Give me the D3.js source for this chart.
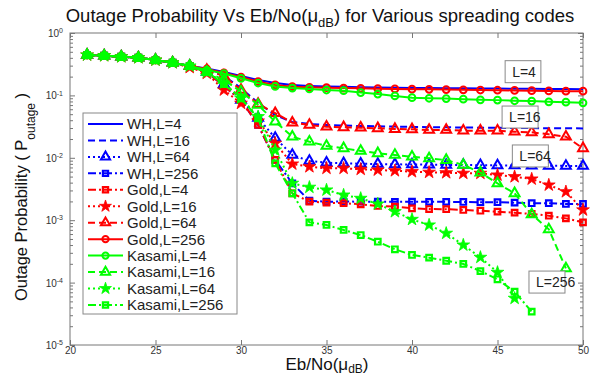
<!DOCTYPE html>
<html>
<head>
<meta charset="utf-8">
<script src="https://cdn.jsdelivr.net/npm/d3@7"></script>
<style>
  body { margin: 0; background: #fff; }
  svg { font-family: "Liberation Sans", Arial, sans-serif; }
</style>
</head>
<body>
<svg id="chart" width="598" height="375"></svg>
<script>
// Eb/No in dB (x values)
const ebno = [21,22,23,24,25,26,27,28,29,30,31,32,33,34,35,36,37,38,39,40,41,42,43,44,45,46,47,48,49,50];

// outage probability per code family / length
const wh4   = [0.444,0.433,0.417,0.402,0.369,0.334,0.296,0.270,0.237,0.205,0.177,0.158,0.147,0.142,0.139,0.137,0.135,0.134,0.133,0.132,0.131,0.130,0.130,0.129,0.129,0.128,0.128,0.127,0.127,0.126];
const wh16  = [0.444,0.433,0.417,0.402,0.369,0.334,0.296,0.255,0.205,0.131,0.0755,0.0485,0.0375,0.0348,0.0336,0.0329,0.0323,0.0320,0.0316,0.0313,0.0310,0.0308,0.0306,0.0304,0.0303,0.0300,0.0299,0.0298,0.0297,0.0296];
const wh64  = [0.444,0.433,0.417,0.402,0.369,0.334,0.296,0.237,0.152,0.0844,0.0434,0.0208,0.0111,0.00889,0.00835,0.00816,0.00804,0.00795,0.00787,0.00781,0.00775,0.00770,0.00767,0.00761,0.00756,0.00753,0.00750,0.00745,0.00742,0.00739];
const wh256 = [0.444,0.433,0.417,0.402,0.369,0.334,0.296,0.237,0.141,0.0844,0.0336,0.00923,0.0039,0.00205,0.00198,0.00199,0.00198,0.00198,0.00197,0.00198,0.00197,0.00197,0.00196,0.00194,0.00194,0.00191,0.00187,0.00187,0.00182,0.00182];
const gold4   = [0.444,0.433,0.417,0.402,0.369,0.334,0.296,0.237,0.141,0.0844,0.0336,0.00923,0.0027,0.00198,0.00191,0.00187,0.0018,0.00169,0.00165,0.00155,0.00151,0.0015,0.00146,0.00142,0.00137,0.00132,0.00126,0.00118,0.00107,0.000925];
const gold16  = [0.444,0.433,0.417,0.402,0.369,0.334,0.28,0.226,0.122,0.0747,0.0389,0.0171,0.00795,0.0072,0.00679,0.00679,0.00654,0.00637,0.00621,0.00599,0.00586,0.00577,0.00564,0.00564,0.0053,0.00498,0.00457,0.00366,0.00286,0.00146];
const gold64  = [0.444,0.433,0.417,0.402,0.369,0.334,0.296,0.255,0.205,0.122,0.073,0.052,0.0365,0.0336,0.0315,0.0308,0.0304,0.0297,0.0289,0.0286,0.0279,0.0279,0.0272,0.0272,0.0272,0.0262,0.0256,0.0238,0.0218,0.0142];
const gold256 = [0.444,0.433,0.417,0.402,0.369,0.334,0.296,0.265,0.229,0.197,0.166,0.147,0.138,0.135,0.133,0.131,0.130,0.128,0.127,0.126,0.125,0.124,0.123,0.122,0.121,0.120,0.119,0.118,0.117,0.117];
const kas4   = [0.444,0.433,0.417,0.402,0.369,0.334,0.296,0.255,0.224,0.188,0.158,0.139,0.131,0.127,0.122,0.119,0.111,0.105,0.098,0.092,0.090,0.089,0.087,0.085,0.084,0.082,0.081,0.079,0.078,0.076];
const kas16  = [0.444,0.433,0.417,0.402,0.369,0.334,0.296,0.237,0.177,0.115,0.0702,0.0379,0.0218,0.0181,0.0155,0.0142,0.0129,0.0118,0.0111,0.0104,0.0098,0.0092,0.0077,0.0058,0.0039,0.0027,0.00124,0.000714,0.000169];
const kas64  = [0.444,0.433,0.417,0.402,0.369,0.334,0.296,0.237,0.158,0.0899,0.0456,0.0133,0.0039,0.00337,0.00305,0.00253,0.00224,0.00182,0.00137,0.00103,0.000838,0.000617,0.0004,0.000254,0.000146,0.000056];
const kas256 = [0.444,0.433,0.417,0.402,0.369,0.334,0.296,0.237,0.152,0.0899,0.043,0.00816,0.0027,0.000925,0.000838,0.000697,0.000579,0.000452,0.000342,0.000277,0.000251,0.000224,0.000199,0.000153,0.000113,0.0000715,0.0000342];

const xTicks = [20,25,30,35,40,45,50];
const yExps = [0,-1,-2,-3,-4,-5];

// annotation labels (text, Eb/No at text centre, probability at text centre)
const boxText = ["L=4", "L=16", "L=64", "L=256"];
const boxX = [46.55, 46.6, 47.2, 48.4];
const boxP = [0.24, 0.045, 0.0107, 0.000102];

const series = [
  { name: "WH,L=4",       v: wh4,    color: "#0000ff", dash: null,       marker: null },
  { name: "WH,L=16",      v: wh16,   color: "#0000ff", dash: "7,4",      marker: null },
  { name: "WH,L=64",      v: wh64,   color: "#0000ff", dash: "2,3",      marker: "tri" },
  { name: "WH,L=256",     v: wh256,  color: "#0000ff", dash: "8,3,2,3",  marker: "sq" },
  { name: "Gold,L=4",     v: gold4,  color: "#ff0000", dash: "8,3,2,3",  marker: "sq" },
  { name: "Gold,L=16",    v: gold16, color: "#ff0000", dash: "2,3",      marker: "star" },
  { name: "Gold,L=64",    v: gold64, color: "#ff0000", dash: "7,4",      marker: "tri" },
  { name: "Gold,L=256",   v: gold256,color: "#ff0000", dash: null,       marker: "circ" },
  { name: "Kasami,L=4",   v: kas4,   color: "#00ff00", dash: null,       marker: "circ" },
  { name: "Kasami,L=16",  v: kas16,  color: "#00ff00", dash: "7,4",      marker: "tri" },
  { name: "Kasami,L=64",  v: kas64,  color: "#00ff00", dash: "2,3",      marker: "star" },
  { name: "Kasami,L=256", v: kas256, color: "#00ff00", dash: "8,3,2,3",  marker: "sq" }
];

const svg = d3.select("#chart");
const m = { left: 70, right: 583, top: 33, bottom: 345 };

const x = d3.scaleLinear().domain([20, 50]).range([m.left, m.right]);
const y = d3.scaleLog().domain([1e-5, 1]).range([m.bottom, m.top]);

const frame = "#777";
const tickCol = "#333";

// minor ticks for log axis
const minorVals = [];
yExps.slice(0, -1).forEach(e => {
  for (let k = 2; k <= 9; k++) minorVals.push(k * Math.pow(10, e - 1));
});

// axes
const gx = svg.append("g").attr("transform", `translate(0,${m.bottom})`)
  .call(d3.axisBottom(x).tickValues(xTicks).tickSize(-5).tickPadding(2).tickFormat(d3.format("d")));
const gxTop = svg.append("g").attr("transform", `translate(0,${m.top})`)
  .call(d3.axisTop(x).tickValues(xTicks).tickSize(-5).tickFormat(""));
const gy = svg.append("g").attr("transform", `translate(${m.left},0)`)
  .call(d3.axisLeft(y).tickValues(yExps.map(e => Math.pow(10, e))).tickSize(-5).tickPadding(8).tickFormat(""));
const gyMinor = svg.append("g").attr("transform", `translate(${m.left},0)`)
  .call(d3.axisLeft(y).tickValues(minorVals).tickSize(-3).tickFormat(""));
const gyR = svg.append("g").attr("transform", `translate(${m.right},0)`)
  .call(d3.axisRight(y).tickValues(yExps.map(e => Math.pow(10, e))).tickSize(-5).tickFormat(""));
const gyRMinor = svg.append("g").attr("transform", `translate(${m.right},0)`)
  .call(d3.axisRight(y).tickValues(minorVals).tickSize(-3).tickFormat(""));

[gx, gxTop, gy, gyMinor, gyR, gyRMinor].forEach(g => {
  g.select(".domain").remove();
  g.selectAll(".tick line").attr("stroke", frame);
});
gx.selectAll(".tick text").attr("fill", tickCol).attr("font-size", 10);

// y labels 10^k
gy.selectAll(".tick").each(function (d) {
  const t = d3.select(this).select("text")
    .attr("fill", tickCol).attr("font-size", 10).attr("dy", "0.35em").attr("x", -7);
  t.append("tspan").text("10");
  t.append("tspan").attr("font-size", 7).attr("dy", "-0.55em").text(Math.round(Math.log10(d)));
});

svg.append("rect")
  .attr("x", m.left).attr("y", m.top)
  .attr("width", m.right - m.left).attr("height", m.bottom - m.top)
  .attr("fill", "none").attr("stroke", frame).attr("stroke-width", 1);

// markers
function drawMarker(g, type, color, size) {
  if (type === "circ") {
    g.append("circle").attr("r", size * 0.45).attr("fill", "none").attr("stroke", color).attr("stroke-width", 2);
  } else if (type === "tri") {
    g.append("path").attr("d", d3.symbol(d3.symbolTriangle, size * size * 0.75)())
      .attr("fill", "none").attr("stroke", color).attr("stroke-width", 2);
  } else if (type === "sq") {
    g.append("path").attr("d", d3.symbol(d3.symbolSquare, size * size * 0.55)())
      .attr("fill", "none").attr("stroke", color).attr("stroke-width", 2.2);
  } else if (type === "star") {
    g.append("path").attr("d", d3.symbol(d3.symbolStar, size * size * 0.9)())
      .attr("fill", color).attr("stroke", color).attr("stroke-width", 0.8);
  }
}

const line = d3.line().x(d => x(d[0])).y(d => y(d[1]));
const plot = svg.append("g");

series.forEach(s => {
  const pts = s.v.map((v, i) => [ebno[i], v]);
  const g = plot.append("g");
  g.append("path").attr("d", line(pts))
    .attr("fill", "none").attr("stroke", s.color).attr("stroke-width", 2)
    .attr("stroke-dasharray", s.dash);
  if (s.marker) {
    g.selectAll("g.mk").data(pts).join("g").attr("class", "mk")
      .attr("transform", d => `translate(${x(d[0])},${y(d[1])})`)
      .each(function () { drawMarker(d3.select(this), s.marker, s.color, 7.5); });
  }
});

// L= text boxes (box drawn a little narrower than the text, as in the original)
boxText.forEach((txt, i) => {
  const g = svg.append("g").attr("transform", `translate(${x(boxX[i])},${y(boxP[i])})`);
  const t = g.append("text").attr("dy", "0.35em")
    .attr("font-size", 14).attr("fill", "#222").attr("text-anchor", "middle").text(txt);
  const w = t.node().getComputedTextLength();
  const bw = Math.min(w + 12, 36);
  g.insert("rect", "text").attr("x", -w / 2 - 7).attr("y", -11).attr("width", bw).attr("height", 22)
    .attr("fill", "#fff").attr("stroke", "#888");
});

// legend
const lg = svg.append("g").attr("transform", "translate(83,113)");
lg.append("rect").attr("width", 154).attr("height", 201)
  .attr("fill", "#fff").attr("stroke", "#888");
series.forEach((s, i) => {
  const row = lg.append("g").attr("transform", `translate(0,${11 + i * 16.45})`);
  row.append("line").attr("x1", 5).attr("x2", 40).attr("y1", 0).attr("y2", 0)
    .attr("stroke", s.color).attr("stroke-width", 2).attr("stroke-dasharray", s.dash);
  if (s.marker) {
    const mg = row.append("g").attr("transform", "translate(22.5,0)");
    drawMarker(mg, s.marker, s.color, 7);
  }
  row.append("text").attr("x", 44).attr("dy", "0.36em").attr("font-size", 15)
    .attr("fill", "#222").text(s.name);
});

// title
const title = svg.append("text").attr("x", 320).attr("y", 22).attr("text-anchor", "middle")
  .attr("font-size", 18.5).attr("fill", "#111");
title.append("tspan").text("Outage Probability Vs Eb/No(\u03bc");
title.append("tspan").attr("font-size", 13).attr("dy", 5).text("dB");
title.append("tspan").attr("dy", -5).text(") for Various spreading codes");

// x label
const xl = svg.append("text").attr("x", 327).attr("y", 370).attr("text-anchor", "middle")
  .attr("font-size", 17).attr("fill", "#111");
xl.append("tspan").text("Eb/No(\u03bc");
xl.append("tspan").attr("font-size", 12).attr("dy", 3).text("dB");
xl.append("tspan").attr("dy", -3).text(")");

// y label
const yl = svg.append("text").attr("transform", "translate(27,197) rotate(-90)")
  .attr("text-anchor", "middle").attr("font-size", 16.5).attr("fill", "#111");
yl.append("tspan").text("Outage Probability ( P");
yl.append("tspan").attr("font-size", 12).attr("dy", 8).text("outage");
yl.append("tspan").attr("dy", -8).text(" )");
</script>
</body>
</html>
